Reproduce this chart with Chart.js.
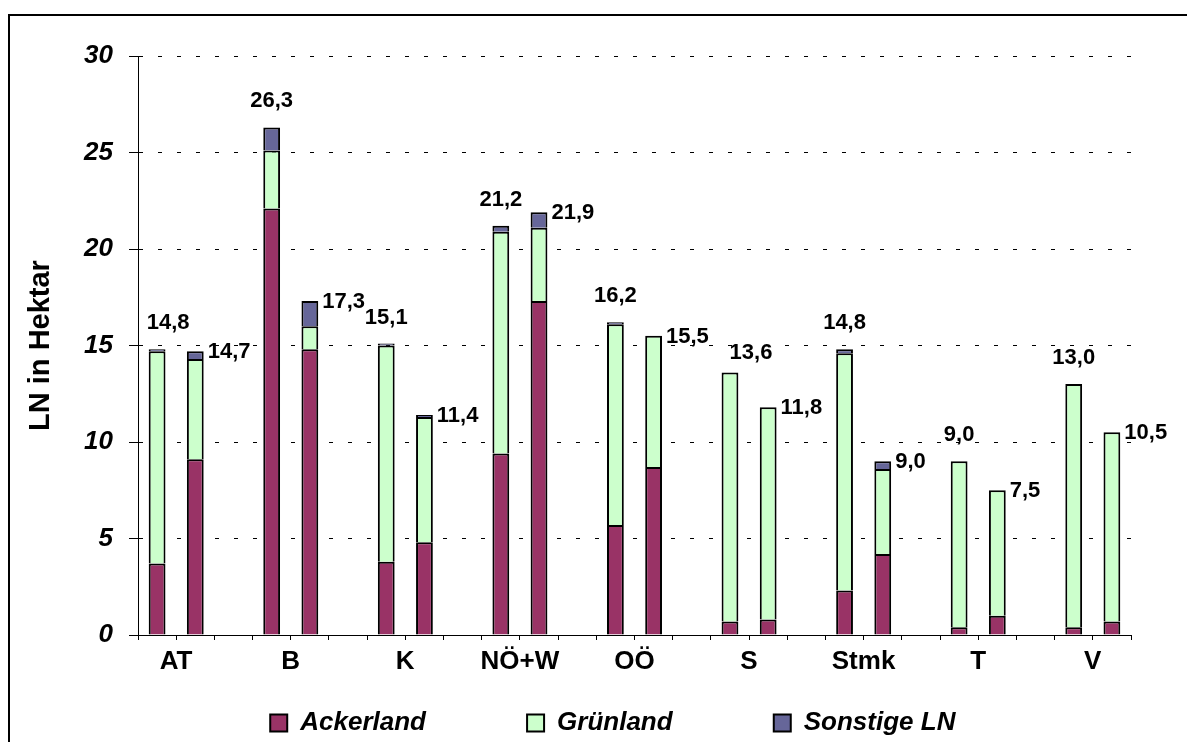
<!DOCTYPE html>
<html>
<head>
<meta charset="utf-8">
<script src="https://cdn.jsdelivr.net/npm/chart.js@4/dist/chart.umd.min.js"></script>
<style>
  html, body { margin: 0; padding: 0; background: #fff; overflow: hidden; }
  #frame { position: absolute; left: 8px; top: 14px; width: 1200px; height: 800px; border: 2px solid #000; box-sizing: border-box; }
  #wrap { position: absolute; left: 0; top: 0; width: 1187px; height: 742px; }
</style>
</head>
<body>
<div id="frame"></div>
<div id="wrap"><canvas id="c" width="1187" height="742"></canvas></div>
<script>
// Regions (Bundesländer) – each has two stacked columns
const regions = ['AT', 'B', 'K', 'NÖ+W', 'OÖ', 'S', 'Stmk', 'T', 'V'];

// First column per region (ha)
const ackerland1 = [3.7, 22.1, 3.8, 9.4, 5.7, 0.7, 2.3, 0.4, 0.4];
const gruenland1 = [11.0, 3.0, 11.2, 11.5, 10.4, 12.9, 12.3, 8.6, 12.6];
const sonstige1  = [0.1, 1.2, 0.1, 0.3, 0.1, 0, 0.2, 0, 0];

// Second column per region (ha)
const ackerland2 = [9.1, 14.8, 4.8, 17.3, 8.7, 0.8, 4.2, 1.0, 0.7];
const gruenland2 = [5.2, 1.2, 6.5, 3.8, 6.8, 11.0, 4.4, 6.5, 9.8];
const sonstige2  = [0.4, 1.3, 0.1, 0.8, 0, 0, 0.4, 0, 0];

const seriesNames = ['Ackerland', 'Grünland', 'Sonstige LN'];
const seriesColors = ['#993366', '#CCFFCC', '#666699'];

// Slot layout on the category axis: col1, col2, gap, col1, col2, gap, ...
const slotLabels = [];
const slotKind = [];   // 1 = first column, 2 = second column, 0 = gap
const slotRegion = [];
regions.forEach((r, i) => {
  slotLabels.push(r); slotKind.push(1); slotRegion.push(i);
  slotLabels.push(''); slotKind.push(2); slotRegion.push(i);
  if (i < regions.length - 1) { slotLabels.push(''); slotKind.push(0); slotRegion.push(i); }
});

function spread(a1, a2) {
  return slotKind.map((k, s) => {
    if (k === 0) return null;
    const v = (k === 1 ? a1 : a2)[slotRegion[s]];
    return v === 0 ? null : v;
  });
}

const seriesData = [
  spread(ackerland1, ackerland2),
  spread(gruenland1, gruenland2),
  spread(sonstige1, sonstige2)
];

// Extra spacing between legend entries
const legendGap = '              ';
const legendTail = ['', '', '      '];

// Small nudges for a couple of total labels above first columns
const totalNudge = { 0: { dx: 11, dy: 0 }, 15: { dx: 21, dy: 6 } };

const totalsPlugin = {
  id: 'totals',
  afterDatasetsDraw(chart) {
    const ctx = chart.ctx;
    ctx.save();
    ctx.font = 'bold 22px "Liberation Sans", Arial, sans-serif';
    ctx.fillStyle = '#000';
    slotKind.forEach((k, s) => {
      if (k === 0) return;
      let total = 0, topEl = null;
      chart.data.datasets.forEach((ds, di) => {
        const v = ds.data[s];
        if (v != null) {
          total += v;
          topEl = chart.getDatasetMeta(di).data[s];
        }
      });
      if (!topEl) return;
      const txt = total.toFixed(1).replace('.', ',');
      const half = topEl.width / 2;
      if (k === 1) {
        const n = totalNudge[s] || { dx: 0, dy: 0 };
        ctx.textAlign = 'center';
        ctx.textBaseline = 'middle';
        ctx.fillText(txt, topEl.x + n.dx, topEl.y - 26 + n.dy);
      } else {
        ctx.textAlign = 'left';
        ctx.textBaseline = 'middle';
        ctx.fillText(txt, topEl.x + half + 4, topEl.y + 1);
      }
    });
    ctx.restore();
  }
};

Chart.defaults.font.family = '"Liberation Sans", Arial, sans-serif';
Chart.defaults.color = '#000';

new Chart(document.getElementById('c'), {
  type: 'bar',
  data: {
    labels: slotLabels,
    datasets: seriesNames.map((name, i) => ({
      label: name,
      data: seriesData[i],
      backgroundColor: seriesColors[i],
      borderColor: '#000',
      borderWidth: 2,
      stack: 'ln',
      categoryPercentage: 1.0,
      barPercentage: 0.44
    }))
  },
  options: {
    responsive: false,
    animation: false,
    layout: { padding: { left: 0, right: 56, top: 56, bottom: -4 } },
    plugins: {
      tooltip: { enabled: false },
      legend: {
        position: 'bottom',
        fullSize: false,
        labels: {
          boxWidth: 17,
          boxHeight: 17,
          padding: 0,
          color: '#000',
          font: { size: 26, weight: 'bold', style: 'italic' },
          generateLabels(chart) {
            const items = Chart.defaults.plugins.legend.labels.generateLabels(chart);
            items.forEach((it, i) => {
              it.text = it.text + (i < items.length - 1 ? legendGap : legendTail[i]);
              it.lineWidth = 2;
              it.strokeStyle = '#000';
            });
            return items;
          }
        }
      }
    },
    scales: {
      x: {
        stacked: true,
        offset: true,
        afterFit(scale) { scale.height = 75; },
        grid: {
          offset: true,
          drawOnChartArea: false,
          drawTicks: true,
          tickLength: 5,
          tickColor: '#000',
          tickWidth: 1
        },
        border: { display: true, color: '#000', width: 1 },
        ticks: {
          autoSkip: false,
          maxRotation: 0,
          minRotation: 0,
          labelOffset: 19,
          padding: 6,
          color: '#000',
          font: { size: 26, weight: 'bold' },
          callback: (v, i) => slotLabels[i]
        }
      },
      y: {
        stacked: true,
        min: 0,
        max: 30,
        afterFit(scale) { scale.width = 138; },
        grid: {
          color: '#000',
          lineWidth: 1,
          tickLength: 9,
          tickColor: '#000',
          tickBorderDash: []
        },
        border: { display: true, color: '#000', width: 1, dash: [4, 15] },
        ticks: {
          stepSize: 5,
          padding: 16,
          color: '#000',
          font: { size: 26, weight: 'bold', style: 'italic' }
        },
        title: {
          display: true,
          text: 'LN in Hektar',
          color: '#000',
          font: { size: 29, weight: 'bold' },
          padding: { top: 24, bottom: 0 }
        }
      }
    }
  },
  plugins: [totalsPlugin]
});
</script>
</body>
</html>
